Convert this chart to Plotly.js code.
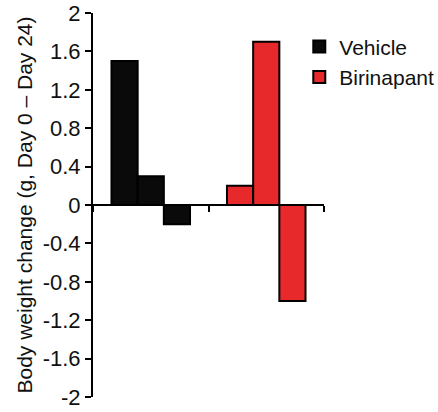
<!DOCTYPE html>
<html>
<head>
<meta charset="utf-8">
<script src="https://cdn.plot.ly/plotly-3.0.1.min.js"></script>
<style>html,body{margin:0;padding:0;background:#fff;}#chart{width:438px;height:412px;}</style>
</head>
<body>
<div id="chart"></div>
<script>
// Data
var groups = ["Vehicle", "Birinapant"];
var vehicleValues = [1.5, 0.3, -0.2];
var birinapantValues = [0.2, 1.7, -1.0];
var seriesColors = {Vehicle: "#0a0a0a", Birinapant: "#e8292c"};
var yTickVals = [-2, -1.6, -1.2, -0.8, -0.4, 0, 0.4, 0.8, 1.2, 1.6, 2];
var yTickText = ["-2", "-1.6", "-1.2", "-0.8", "-0.4", "0", "0.4", "0.8", "1.2", "1.6", "2"];
var yTitle = "Body weight change (g, Day 0 \u2013 Day 24)";

var FONT = "Liberation Sans, Arial, Helvetica, sans-serif";

function makeTraces(name, values) {
  return values.map(function (v, i) {
    return {
      type: "bar",
      name: name,
      x: [name],
      y: [v],
      offsetgroup: String(i),
      legendgroup: name,
      showlegend: i === 0,
      marker: {color: seriesColors[name], line: {color: "#000", width: 2}},
      hoverinfo: "y"
    };
  });
}

var data = makeTraces(groups[0], vehicleValues).concat(makeTraces(groups[1], birinapantValues));

var layout = {
  width: 438,
  height: 412,
  margin: {l: 93, r: 114, t: 13, b: 15, autoexpand: false},
  paper_bgcolor: "#fff",
  plot_bgcolor: "#fff",
  barmode: "group",
  bargap: 0.32,
  bargroupgap: 0,
  font: {family: FONT, size: 21, color: "#111"},
  showlegend: true,
  legend: {
    x: 0.893, y: 0.965, xanchor: "left", yanchor: "top",
    font: {family: FONT, size: 21, color: "#111"},
    tracegroupgap: 0,
    itemwidth: 30,
    borderwidth: 0,
    bgcolor: "rgba(0,0,0,0)"
  },
  xaxis: {
    type: "category",
    categoryorder: "array",
    categoryarray: groups,
    range: [-0.5, 1.5],
    anchor: "free",
    position: 0.5,
    showline: true,
    linecolor: "#000",
    linewidth: 2,
    ticks: "outside",
    tickson: "boundaries",
    ticklen: 6,
    tickwidth: 2,
    tickcolor: "#000",
    showticklabels: false,
    showgrid: false,
    zeroline: false,
    fixedrange: true
  },
  yaxis: {
    range: [-2, 2],
    tickvals: yTickVals,
    ticktext: yTickText,
    ticks: "outside",
    ticklen: 6,
    tickwidth: 2,
    tickcolor: "#000",
    showline: true,
    linecolor: "#000",
    linewidth: 2,
    showgrid: false,
    zeroline: false,
    tickfont: {family: FONT, size: 22, color: "#111"},
    title: {text: yTitle, font: {family: FONT, size: 21, color: "#111"}, standoff: 4},
    automargin: false,
    fixedrange: true
  }
};

Plotly.newPlot("chart", data, layout, {displayModeBar: false, staticPlot: true});
</script>
</body>
</html>
